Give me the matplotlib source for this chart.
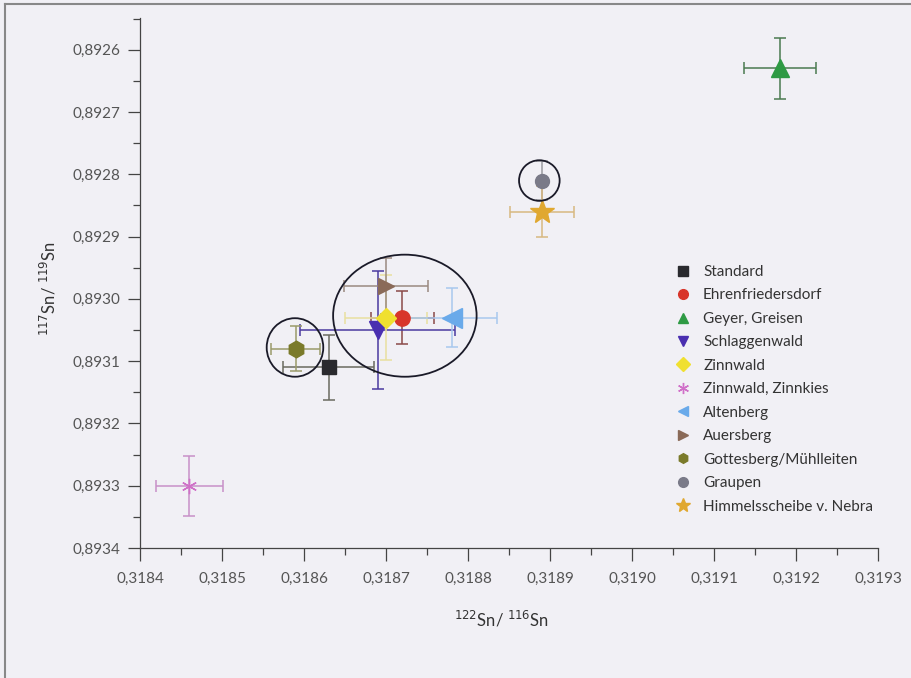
import matplotlib
matplotlib.use("Agg")
import matplotlib.pyplot as plt
from matplotlib.patches import Ellipse
from matplotlib.ticker import MultipleLocator, FuncFormatter
from matplotlib.lines import Line2D

# Sn isotope ratios per deposit: 122Sn/116Sn (x) and 117Sn/119Sn (y) with errors
names = ["Standard", "Ehrenfriedersdorf", "Geyer, Greisen", "Schlaggenwald",
         "Zinnwald", "Zinnwald, Zinnkies", "Altenberg", "Auersberg",
         "Gottesberg/Mühlleiten", "Graupen", "Himmelsscheibe v. Nebra"]
x_vals = [0.31863, 0.31872, 0.31918, 0.31869, 0.31870, 0.31846,
          0.31878, 0.31870, 0.31859, 0.31889, 0.31889]
y_vals = [0.89311, 0.89303, 0.89263, 0.89305, 0.89303, 0.89330,
          0.89303, 0.89298, 0.89308, 0.89281, 0.89286]
x_err = [0.000055, 0.000038, 0.000044, 0.0000945, 0.00005, 0.000041,
         0.000055, 0.000051, 0.00003, 0.0, 0.000039]
y_err = [0.000052, 0.000042, 0.000049, 0.000094, 0.000068, 0.000048,
         0.000047, 0.000045, 0.000036, 0.000032, 0.000041]
colors = ["#2a2a2e", "#d8352a", "#2e9a44", "#4a2fb0", "#f0e030", "#d070c8",
          "#6aaaea", "#8a6a58", "#7a7a2a", "#7a7a88", "#e0a830"]
err_colors = ["#6a6a60", "#8a4a48", "#4a7a50", "#4a3aa0", "#e8e0a0", "#c890c8",
              "#a8c8ee", "#9a8a80", "#9a9a6a", "#9a9aa0", "#d8b880"]
markers = ["s", "o", "^", "v", "D", "x", "<", ">", "h", "o", "*"]
sizes = [10, 11, 13, 13, 10, 11, 14, 12, 12, 10, 18]

# grouping circles: centre (x, y), width, height in data units
groups_xy = [(0.318723, 0.893027), (0.318589, 0.893078), (0.318887, 0.89281)]
groups_w = [0.000175, 0.000069, 0.0000495]
groups_h = [0.000196, 0.000094, 0.0000652]

plt.rcParams["font.family"] = ["Lato", "DejaVu Sans"]
bg = "#f1f0f5"
fig = plt.figure(figsize=(9.11, 6.78), dpi=100, facecolor=bg)
ax = fig.add_axes([140 / 911, 1 - 548 / 678, 738 / 911, 530 / 678])
ax.set_facecolor(bg)

for i in range(len(names)):
    ax.errorbar(x_vals[i], y_vals[i], xerr=x_err[i] or None, yerr=y_err[i],
                fmt="none", ecolor=err_colors[i], elinewidth=1.1, capsize=4,
                capthick=1.1, zorder=2)
for i in range(len(names)):
    ms = sizes[i]
    if markers[i] == "x":
        ax.plot(x_vals[i], y_vals[i], marker=(6, 2, 0), color=colors[i],
                ms=ms, mew=1.0, ls="none", zorder=3)
    else:
        ax.plot(x_vals[i], y_vals[i], marker=markers[i], color=colors[i],
                ms=ms, mec=colors[i], ls="none", zorder=3)

for (cx, cy), w, h in zip(groups_xy, groups_w, groups_h):
    ax.add_patch(Ellipse((cx, cy), w, h, fill=False, ec="#1a1a28",
                         lw=1.3, zorder=4))

ax.set_xlim(0.3184, 0.3193)
ax.set_ylim(0.8934, 0.892549)

comma = FuncFormatter(lambda v, p: f"{v:.4f}".replace(".", ","))
ax.xaxis.set_major_locator(MultipleLocator(0.0001))
ax.xaxis.set_minor_locator(MultipleLocator(0.00005))
ax.yaxis.set_major_locator(MultipleLocator(0.0001))
ax.yaxis.set_minor_locator(MultipleLocator(0.00005))
ax.xaxis.set_major_formatter(comma)
ax.yaxis.set_major_formatter(comma)
ax.tick_params(which="major", length=9, width=0.9, color="#444",
               labelsize=11, labelcolor="#555", pad=5)
ax.tick_params(which="minor", length=5, width=0.9, color="#444")
ax.tick_params(axis="x", which="major", pad=8)
for s in ("top", "right"):
    ax.spines[s].set_visible(False)
for s in ("left", "bottom"):
    ax.spines[s].set_color("#444")
    ax.spines[s].set_linewidth(0.9)

ax.set_xlabel("$^{122}$Sn/ $^{116}$Sn", fontsize=12, color="#333")
ax.set_ylabel("$^{117}$Sn/ $^{119}$Sn", fontsize=12, color="#333")
ax.xaxis.set_label_coords(0.49, -0.115)
ax.yaxis.set_label_coords(-0.11, 0.49)

handles = []
for i in range(len(names)):
    if markers[i] == "x":
        h = Line2D([], [], marker=(6, 2, 0), color=colors[i], ls="none",
                   ms=8, mew=1.0)
    elif markers[i] == "*":
        h = Line2D([], [], marker="*", color=colors[i], ls="none", ms=10)
    else:
        h = Line2D([], [], marker=markers[i], color=colors[i], ls="none",
                   ms=7)
    handles.append(h)
ax.legend(handles, names, loc="upper left", bbox_to_anchor=(0.705, 0.56),
          frameon=False, fontsize=11, labelcolor="#333", handletextpad=0.7,
          labelspacing=0.62, handlelength=1.2)

# thin frame lines along the top and left edge
fig.add_artist(Line2D([5 / 911, 5 / 911], [0, 1 - 4 / 678], color="#888", lw=1.5))
fig.add_artist(Line2D([5 / 911, 1], [1 - 4 / 678, 1 - 4 / 678], color="#888", lw=1.5))

fig.savefig("out.png", dpi=100, facecolor=bg)
